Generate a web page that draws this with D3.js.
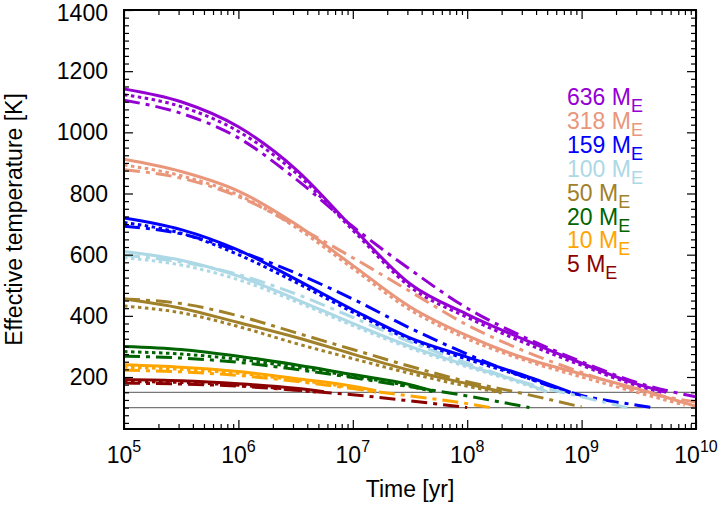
<!DOCTYPE html>
<html><head><meta charset="utf-8">
<script src="https://cdn.jsdelivr.net/npm/d3@7"></script>
<style>body{margin:0;background:#fff} text{font-family:"Liberation Sans",Arial,Helvetica,sans-serif}</style>
</head><body><svg id="c" width="725" height="505"></svg>
<script>
const masses = ["636","318","159","100","50","20","10","5"];
const colors = ["#9400d3","#e9967a","#0000ff","#add8e6","#a08028","#006400","#ffa500","#8b0000"];
const yTicks = [200,400,600,800,1000,1200,1400];
const xTicks = [1e5,1e6,1e7,1e8,1e9,1e10];
const xTickExp = ["5","6","7","8","9","10"];
const refLines = [100,150];

// [time in yr, effective temperature in K]
const solid636 = [[1e5,1142],[3.16e5,1100],[1e6,1018],[3.16e6,880],[1e7,688],[3.16e7,505],[1e8,405],[3.16e8,322],[1e9,245],[3.16e9,175],[5.5e9,150]];
const dotted636 = [[1e5,1123],[3.16e5,1084],[1e6,1003],[3.16e6,868],[1e7,680],[3.16e7,495],[1e8,395],[3.16e8,312],[1e9,238],[3.16e9,170],[5e9,150]];
const dashdot636 = [[1e5,1105],[3.16e5,1062],[1e6,982],[3.16e6,848],[1e7,692],[3.16e7,552],[1e8,425],[3.16e8,330],[1e9,250],[3.16e9,180],[1e10,135]];

const solid318 = [[1e5,912],[3.16e5,872],[1e6,808],[3.16e6,700],[1e7,565],[3.16e7,430],[1e8,335],[3.16e8,262],[1e9,210],[3.16e9,160],[1e10,104]];
const dotted318 = [[1e5,893],[3.16e5,858],[1e6,795],[3.16e6,690],[1e7,555],[3.16e7,420],[1e8,325],[3.16e8,255],[1e9,200],[3.16e9,148],[8e9,108]];
const dashdot318 = [[1e5,878],[3.16e5,850],[1e6,790],[3.16e6,695],[1e7,590],[3.16e7,480],[1e8,370],[3.16e8,285],[1e9,215],[3.16e9,155],[1e10,118]];

const solid159 = [[1e5,720],[3.16e5,682],[1e6,615],[3.16e6,520],[1e7,420],[3.16e7,328],[1e8,265],[3.16e8,205],[8e8,150]];
const dotted159 = [[1e5,705],[3.16e5,670],[1e6,600],[3.16e6,510],[1e7,412],[3.16e7,322],[1e8,258],[3.16e8,200],[8e8,148]];
const dashdot159 = [[1e5,693],[3.16e5,668],[1e6,612],[3.16e6,540],[1e7,455],[3.16e7,360],[1e8,275],[3.16e8,200],[1e9,140],[3.16e9,107],[4.2e9,100]];

const solid100 = [[1e5,610],[3.16e5,582],[1e6,530],[3.16e6,455],[1e7,375],[3.16e7,300],[1e8,238],[3.16e8,180],[5e8,152]];
const dotted100 = [[1e5,590],[3.16e5,566],[1e6,518],[3.16e6,447],[1e7,368],[3.16e7,294],[1e8,233],[3.16e8,176],[5e8,150]];
const dashdot100 = [[1e5,598],[3.16e5,576],[1e6,535],[3.16e6,472],[1e7,395],[3.16e7,315],[1e8,245],[3.16e8,182],[1e9,135],[2.5e9,100]];

const solid50 = [[1e5,455],[3.16e5,425],[1e6,378],[3.16e6,330],[1e7,275],[3.16e7,222],[1e8,178],[2e8,152]];
const dotted50 = [[1e5,432],[3.16e5,410],[1e6,365],[3.16e6,310],[1e7,260],[3.16e7,212],[1e8,170],[2e8,148]];
const dashdot50 = [[1e5,455],[3.16e5,440],[1e6,400],[3.16e6,345],[1e7,290],[3.16e7,235],[1e8,185],[3.16e8,145],[1e9,102]];

const solid20 = [[1e5,300],[3.16e5,290],[1e6,268],[3.16e6,240],[1e7,208],[3.16e7,175],[5e7,155]];
const dotted20 = [[1e5,283],[3.16e5,275],[1e6,258],[3.16e6,232],[1e7,202],[3.16e7,170],[5e7,152]];
const dashdot20 = [[1e5,268],[3.16e5,262],[1e6,248],[3.16e6,225],[1e7,198],[3.16e7,168],[1e8,138],[3.5e8,100]];

const solid10 = [[1e5,240],[3.16e5,232],[1e6,218],[3.16e6,195],[1e7,170],[1.6e7,155]];
const dotted10 = [[1e5,232],[3.16e5,225],[1e6,212],[3.16e6,190],[1e7,165],[1.6e7,150]];
const dashdot10 = [[1e5,222],[3.16e5,217],[1e6,205],[3.16e6,186],[1e7,162],[3.16e7,138],[1e8,113],[1.6e8,100]];

const solid5 = [[1e5,192],[3.16e5,188],[1e6,178],[3.16e6,163],[5.6e6,152]];
const dotted5 = [[1e5,185],[3.16e5,182],[1e6,173],[3.16e6,158],[5e6,150]];
const dashdot5 = [[1e5,180],[3.16e5,177],[1e6,170],[3.16e6,157],[1e7,142],[3.16e7,122],[1e8,100]];

const seriesByMass = [
  [solid636, dotted636, dashdot636],
  [solid318, dotted318, dashdot318],
  [solid159, dotted159, dashdot159],
  [solid100, dotted100, dashdot100],
  [solid50, dotted50, dashdot50],
  [solid20, dotted20, dashdot20],
  [solid10, dotted10, dashdot10],
  [solid5, dotted5, dashdot5]
];
const dashes = [null, "3.5,3.5", "16,6,4,6"];

const L = 124, R = 696, T = 10, B = 429;
const svg = d3.select("#c");
const x = d3.scaleLog().domain([1e5, 1e10]).range([L, R]);
const y = d3.scaleLinear().domain([30, 1400]).range([B, T]);

svg.append("defs").append("clipPath").attr("id","clip")
  .append("rect").attr("x",L).attr("y",T).attr("width",R-L).attr("height",B-T);

const plot = svg.append("g").attr("clip-path","url(#clip)");

plot.selectAll("line.ref").data(refLines).join("line")
  .attr("x1",L).attr("x2",R).attr("y1",d=>y(d)).attr("y2",d=>y(d))
  .attr("stroke","#777").attr("stroke-width",1.2);

const line = d3.line().x(d=>x(d[0])).y(d=>y(d[1])).curve(d3.curveMonotoneX);

seriesByMass.forEach((group, mi) => {
  group.forEach((data, si) => {
    plot.append("path").attr("d", line(data))
      .attr("fill","none").attr("stroke", colors[mi]).attr("stroke-width", 3)
      .attr("stroke-dasharray", dashes[si]);
  });
});

const minorX = [];
for (let e = 5; e < 10; e++) for (let k = 2; k <= 9; k++) minorX.push(k * Math.pow(10, e));
const minorY = d3.range(50, 1400, 25).filter(v => v % 200 !== 0);

function ax(gen, tx, ty) {
  const g = svg.append("g").attr("transform", `translate(${tx},${ty})`).call(gen);
  g.select(".domain").remove();
  g.selectAll("line").attr("stroke","#000").attr("stroke-width",1.2);
  return g;
}
ax(d3.axisBottom(x).tickValues(xTicks).tickSize(-9).tickFormat(""), 0, B);
ax(d3.axisBottom(x).tickValues(minorX).tickSize(-5).tickFormat(""), 0, B);
ax(d3.axisTop(x).tickValues(xTicks).tickSize(-9).tickFormat(""), 0, T);
ax(d3.axisTop(x).tickValues(minorX).tickSize(-5).tickFormat(""), 0, T);
ax(d3.axisLeft(y).tickValues(yTicks).tickSize(-9).tickFormat(""), L, 0);
ax(d3.axisLeft(y).tickValues(minorY).tickSize(-5).tickFormat(""), L, 0);
ax(d3.axisRight(y).tickValues(yTicks).tickSize(-9).tickFormat(""), R, 0);
ax(d3.axisRight(y).tickValues(minorY).tickSize(-5).tickFormat(""), R, 0);

svg.append("rect").attr("x",L).attr("y",T).attr("width",R-L).attr("height",B-T)
  .attr("fill","none").attr("stroke","#000").attr("stroke-width",2);

svg.selectAll("text.yl").data(yTicks).join("text")
  .attr("x", 108).attr("y", d => Math.max(y(d) + 8, 21))
  .attr("text-anchor","end").attr("font-size",23).text(d => d);

const xl = svg.selectAll("text.xl").data(xTicks).join("text")
  .attr("x", d => x(d)).attr("y", 463).attr("text-anchor","middle").attr("font-size",23);
xl.append("tspan").text("10");
xl.append("tspan").attr("dy",-11).attr("font-size",16).text((d,i)=>xTickExp[i]);

svg.append("text").attr("x", (L+R)/2).attr("y", 497).attr("text-anchor","middle")
  .attr("font-size",23).text("Time [yr]");
svg.append("text").attr("transform", `translate(21.5,${(T+B)/2}) rotate(-90)`)
  .attr("text-anchor","middle").attr("font-size",23).text("Effective temperature [K]");

const leg = svg.selectAll("text.leg").data(masses).join("text")
  .attr("x", 567).attr("y", (d,i) => 105 + i * 23.9)
  .attr("font-size", 23).attr("fill", (d,i) => colors[i]);
leg.append("tspan").text(d => d + " M");
leg.append("tspan").attr("dy", 7).attr("font-size", 18).text("E");
</script></body></html>
